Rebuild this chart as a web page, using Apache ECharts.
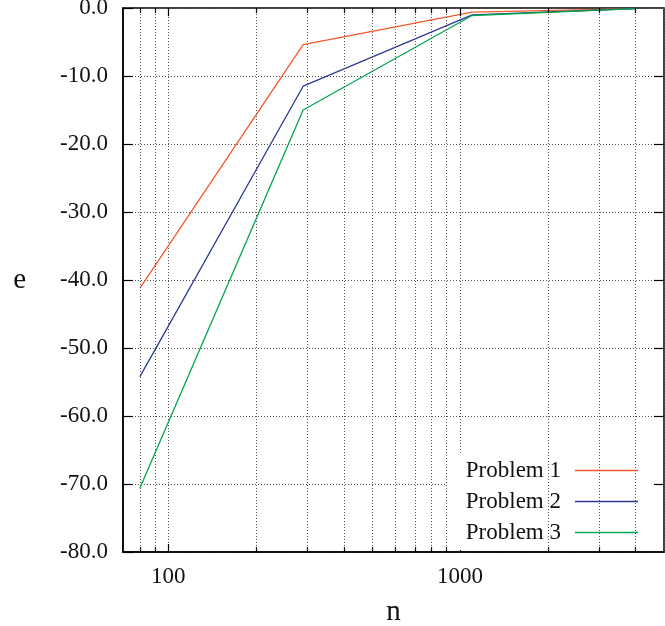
<!DOCTYPE html>
<html>
<head>
<meta charset="utf-8">
<script src="https://cdn.jsdelivr.net/npm/echarts@6/dist/echarts.min.js"></script>
<style>
  html, body { margin: 0; padding: 0; background: #fff; }
  #chart { width: 665px; height: 626px; }
</style>
</head>
<body>
<div id="chart"></div>
<script>
// valeurs (n en échelle log, e en linéaire)
const nValues = [80, 290, 1100, 4000];
const problem1 = [-41.2, -5.4, -0.6, -0.1];
const problem2 = [-54.2, -11.5, -1.0, -0.1];
const problem3 = [-70.6, -15.0, -1.1, -0.1];
const seriesNames = ['Problem 1', 'Problem 2', 'Problem 3'];
const seriesColors = ['#f4592c', '#2e3a92', '#00a650'];
// graduations de l'axe log : décades + valeurs 2..9 de chaque décade
const majorN = [100, 1000];
const minorN = [80, 90, 200, 300, 400, 500, 600, 700, 800, 900, 2000, 3000, 4000];
const eTicks = [-70, -60, -50, -40, -30, -20, -10];

const FONT = '"Liberation Serif", "Times New Roman", serif';
const gridLine = { color: '#555', width: 1, type: [1, 2] };

function pairs(xs, ys) {
  return xs.map((x, i) => [x, ys[i]]);
}

const dataSets = [problem1, problem2, problem3];
const lineSeries = seriesNames.map((name, i) => ({
  name,
  type: 'line',
  data: pairs(nValues, dataSets[i]),
  showSymbol: false,
  lineStyle: { width: 1.3, color: seriesColors[i] },
  itemStyle: { color: seriesColors[i] },
  z: 3,
}));

// segments en coordonnées de données (graduations du cadre haut/droite)
const tickStyle = { color: '#000', width: 1.2, type: 'solid' };
function seg(x0, y0, x1, y1) {
  return [{ coord: [x0, y0], lineStyle: tickStyle }, { coord: [x1, y1] }];
}

const frameMarks = {
  name: '_grid',
  type: 'line',
  data: [],
  silent: true,
  z: 1,
  markLine: {
    silent: true,
    symbol: 'none',
    label: { show: false },
    animation: false,
    data: [
      ...minorN.map((v) => ({ xAxis: v, lineStyle: gridLine })),
      ...minorN.map((v) => seg(v, -80, v, -79.25)),
      ...minorN.map((v) => seg(v, 0, v, -0.75)),
      ...majorN.map((v) => seg(v, 0, v, -1.2)),
      ...eTicks.map((v) => seg(5000, v, 4620, v)),
    ],
  },
};

const option = {
  backgroundColor: '#fff',
  animation: false,
  textStyle: { fontFamily: FONT },
  grid: {
    left: 123, right: 1, top: 8, bottom: 74,
    containLabel: false, outerBoundsMode: 'none',
    show: true, borderColor: '#000', borderWidth: 1.5,
  },
  legend: {
    data: seriesNames,
    orient: 'vertical',
    right: 13,
    top: 455,
    align: 'right',
    backgroundColor: '#fff',
    padding: [4, 14, 6, 19],
    itemWidth: 63,
    itemHeight: 1.5,
    itemGap: 8,
    icon: 'rect',
    textStyle: { fontFamily: FONT, fontSize: 23, color: '#111', padding: [0, 9, 0, 0], lineHeight: 23 },
  },
  xAxis: {
    type: 'log',
    logBase: 10,
    min: 70,
    max: 5000,
    name: 'n',
    nameLocation: 'middle',
    nameGap: 46,
    nameTextStyle: { fontFamily: FONT, fontSize: 29, color: '#111' },
    // sinon l'axe se colle sur e = 0, donc en haut
    axisLine: { show: true, onZero: false, lineStyle: { color: '#000', width: 1.5 } },
    axisTick: { inside: true, length: 8, lineStyle: { color: '#000', width: 1.2 } },
    axisLabel: {
      fontFamily: FONT, fontSize: 23, color: '#111', margin: 13,
      showMinLabel: false, showMaxLabel: false,
      formatter: (v) => String(Math.round(v)),
    },
    splitLine: { show: true, lineStyle: gridLine },
  },
  yAxis: {
    type: 'value',
    min: -80,
    max: 0,
    interval: 10,
    name: 'e',
    nameLocation: 'middle',
    nameRotate: 0,
    nameGap: 97,
    nameTextStyle: { fontFamily: FONT, fontSize: 29, color: '#111' },
    axisLine: { show: true, onZero: false, lineStyle: { color: '#000', width: 1.5 } },
    axisTick: { inside: true, length: 10, lineStyle: { color: '#000', width: 1.2 } },
    axisLabel: { fontFamily: FONT, fontSize: 23, color: '#111', margin: 15, formatter: (v) => v.toFixed(1) },
    splitLine: { show: true, lineStyle: gridLine },
  },
  series: [frameMarks, ...lineSeries],
};

const chart = echarts.init(document.getElementById('chart'), null, { renderer: 'canvas' });
chart.setOption(option);
</script>
</body>
</html>
